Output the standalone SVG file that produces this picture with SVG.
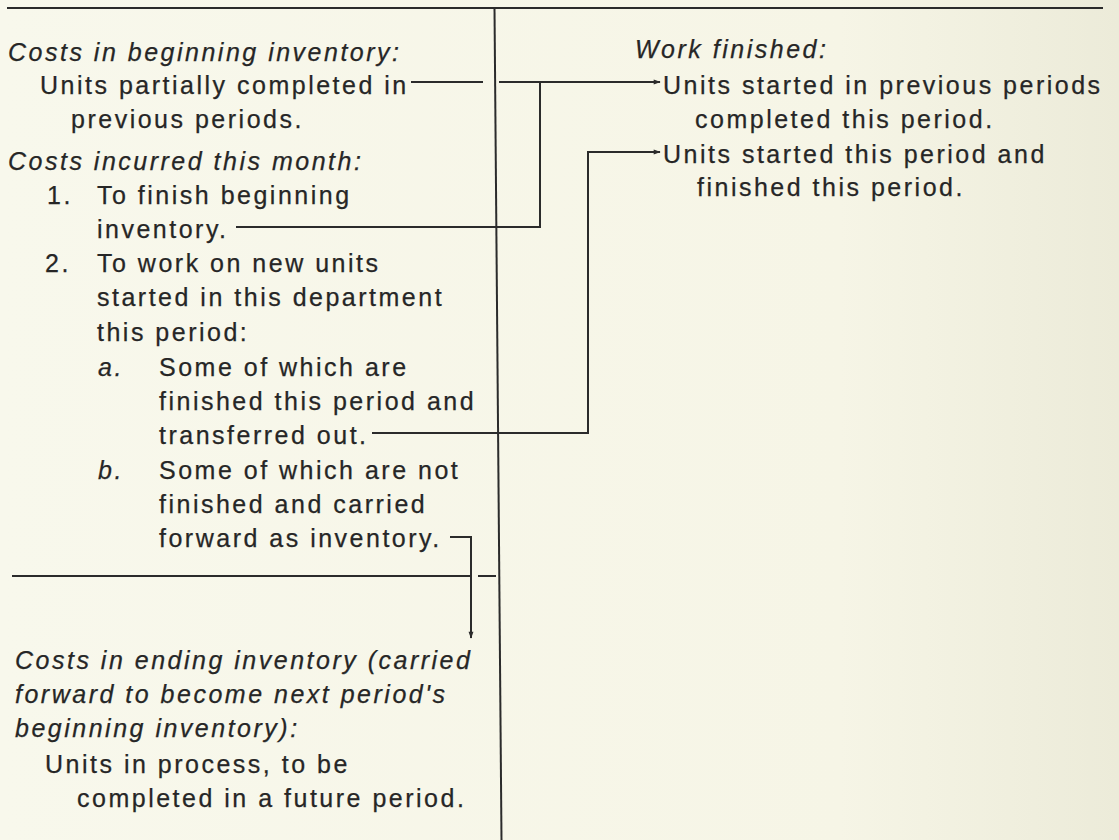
<svg xmlns="http://www.w3.org/2000/svg" width="1119" height="840" viewBox="0 0 1119 840">
<defs>
<linearGradient id="bg" x1="0" y1="0" x2="1" y2="0">
<stop offset="0" stop-color="#f8f8ec"/>
<stop offset="0.75" stop-color="#f6f5e6"/>
<stop offset="1" stop-color="#ecebd9"/>
</linearGradient>
<marker id="ah" viewBox="0 0 10 10" refX="9" refY="5" markerWidth="9" markerHeight="7" markerUnits="userSpaceOnUse" orient="auto">
<path d="M0,1.5 L10,5 L0,8.5 Z" fill="#2b2b2b"/>
</marker>
</defs>
<style>
text{font-family:"Liberation Sans",Arial,sans-serif;font-size:25px;letter-spacing:2.5px;fill:#262626;stroke:#262626;stroke-width:0.25}
.i{font-style:italic}
.ln{stroke:#2b2b2b;stroke-width:2;fill:none}
</style>
<rect x="0" y="0" width="1119" height="840" fill="url(#bg)"/>

<g id="frame">
<line class="ln" x1="7" y1="8" x2="1103" y2="8"/>
<line class="ln" x1="494.5" y1="8" x2="501.5" y2="840"/>
<line class="ln" x1="12" y1="576" x2="471" y2="576"/>
<line class="ln" x1="478" y1="576" x2="496" y2="576"/>
</g>

<g id="beginning-inventory">
<text class="i" x="8" y="61">Costs in beginning inventory:</text>
<text x="40" y="94">Units partially completed in</text>
<text x="71" y="128">previous periods.</text>
</g>

<g id="costs-incurred">
<text class="i" x="8" y="170">Costs incurred this month:</text>
<text x="47" y="204">1.</text>
<text x="97" y="204">To finish beginning</text>
<text x="97" y="238">inventory.</text>
<text x="45" y="272">2.</text>
<text x="97" y="272">To work on new units</text>
<text x="97" y="306">started in this department</text>
<text x="97" y="341">this period:</text>
<text class="i" x="98" y="376">a.</text>
<text x="159" y="376">Some of which are</text>
<text x="159" y="410">finished this period and</text>
<text x="159" y="444">transferred out.</text>
<text class="i" x="98" y="479">b.</text>
<text x="159" y="479">Some of which are not</text>
<text x="159" y="513">finished and carried</text>
<text x="159" y="547">forward as inventory.</text>
</g>

<g id="ending-inventory">
<text class="i" x="15" y="669">Costs in ending inventory (carried</text>
<text class="i" x="15" y="703">forward to become next period's</text>
<text class="i" x="15" y="737">beginning inventory):</text>
<text x="45" y="773">Units in process, to be</text>
<text x="77" y="807">completed in a future period.</text>
</g>

<g id="work-finished">
<text class="i" x="635" y="58">Work finished:</text>
<text x="663" y="94">Units started in previous periods</text>
<text x="695" y="128">completed this period.</text>
<text x="663" y="163">Units started this period and</text>
<text x="697" y="196">finished this period.</text>
</g>

<g id="connectors">
<line class="ln" x1="411" y1="82" x2="483" y2="82"/>
<line class="ln" x1="499" y1="82" x2="660" y2="82" marker-end="url(#ah)"/>
<polyline class="ln" points="236,227 540,227 540,82"/>
<polyline class="ln" points="372,433 588,433 588,152 660,152" marker-end="url(#ah)"/>
<polyline class="ln" points="450,537 471,537 471,638" marker-end="url(#ah)"/>
</g>
</svg>
